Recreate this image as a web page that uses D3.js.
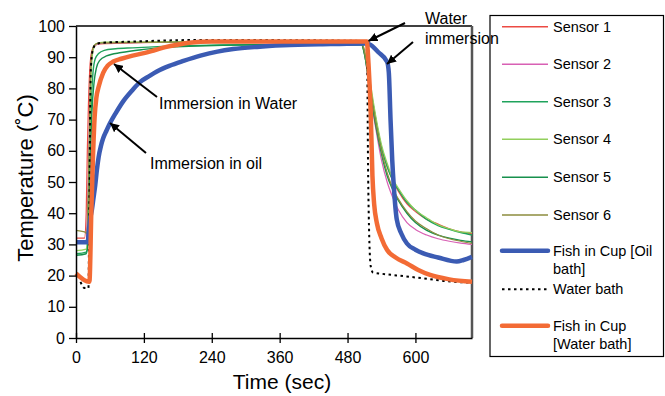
<!DOCTYPE html>
<html><head><meta charset="utf-8">
<script src="https://cdn.jsdelivr.net/npm/d3@7"></script>
<style>
body{margin:0;background:#fff;}
text{font-family:"Liberation Sans",Arial,Helvetica,sans-serif;fill:#000;}
</style></head>
<body><svg id="c" width="665" height="396"></svg>
<script>
// ---------- data (time sec, temperature °C) ----------
const xTicks = [0,120,240,360,480,600];
const yTicks = [0,10,20,30,40,50,60,70,80,90,100];

const sensor1 = [[0,32],[15,32],[18,40],[20,60],[22,75],[25,88],[28,92],[32,93.5],[40,94.3],[80,94.5],[200,94.8],[350,94.8],[505,94.6],[510,92],[520,81],[530,70],[540,61],[550,55],[560,50.5],[570,47],[585,43],[600,40.5],[620,38],[640,36.5],[660,35],[680,34],[700,33.5]];
const sensor2 = [[0,31],[18,31],[21,45],[24,70],[27,88],[30,92.5],[35,94],[50,94.5],[200,94.8],[505,94.5],[510,91],[520,78],[530,67],[540,57],[550,50],[560,45],[570,41],[585,37],[600,34.8],[620,33],[640,31.8],[660,31],[680,30.4],[700,30]];
const sensor3 = [[0,27],[18,27.5],[21,32],[24,55],[27,75],[30,85],[34,89.5],[40,91.2],[50,92.2],[70,92.7],[100,93],[200,93.7],[350,94],[505,94],[510,91],[520,80],[530,70],[540,61],[550,55],[560,50.5],[570,47.5],[585,43.5],[600,41],[620,38],[640,36],[660,34.8],[680,33.8],[700,33]];
const sensor4 = [[0,28],[18,28.5],[21,35],[24,60],[27,85],[30,92],[35,94.2],[50,94.8],[200,95],[505,94.8],[510,92],[520,82],[530,71],[540,62],[550,56],[560,51],[570,48],[585,44],[600,41],[620,38.5],[640,36.3],[660,35],[680,34],[700,33.8]];
const sensor5 = [[0,26.5],[18,27],[22,32],[25,55],[28,72],[32,82],[36,86.5],[42,89],[54,90.4],[80,91.5],[120,92.5],[200,93.5],[350,94],[505,94],[510,91],[520,79],[530,68],[540,59],[550,52],[560,47.5],[570,44],[585,40],[600,37],[620,34.5],[640,33],[660,32],[680,31.3],[700,30.8]];
const sensor6 = [[0,34.5],[15,34],[19,33.5],[22,50],[25,80],[28,91],[32,93.8],[40,94.5],[200,94.8],[505,94.6],[510,91.5],[520,80],[530,69],[540,60],[550,53],[560,48],[570,44.5],[585,40.5],[600,37.5],[620,35],[640,33],[660,31.8],[680,31],[700,30.3]];
const fishOil = [[0,30.7],[21,30.7],[22,33],[25,38],[28,41],[31,45],[34,49],[37,54],[40,58],[44,61.5],[48,64],[54,66.5],[60,68.8],[70,72],[84,76],[100,79.5],[113,82],[130,84],[143,85.4],[165,87.2],[190,88.8],[220,90.5],[250,91.8],[278,92.6],[320,93.3],[366,93.8],[450,94.2],[510,94.4],[518,94.2],[535,91.5],[550,88.5],[553,85],[556,70],[559,57],[562,48],[567,38],[575,33.5],[585,30.3],[600,28.3],[614,27.1],[640,25.8],[673,24.5],[685,25],[700,26]];
const waterBath = [[8,18],[15,16],[22,16],[23,30],[24,50],[25,72],[26,85],[28,90.5],[31,93],[35,94],[45,94.6],[100,95],[210,95.5],[300,95.5],[508,95.2],[513,95],[515,85],[516,60],[518,35],[521,23],[525,21],[540,20.6],[580,19.8],[620,19],[650,18.3],[700,17.7]];
const fishWater = [[0,20.7],[23,18],[24,18.5],[27,40],[30,58],[33,71],[36,77],[40,80.5],[48,85],[56,87.3],[66,88.6],[80,89.5],[100,90.5],[120,91.3],[140,92.3],[160,93.3],[180,94],[200,94.6],[240,95],[400,95],[514,95],[517,88],[521,72],[524,52],[527,43],[532,36.7],[540,32],[550,28.2],[565,25.8],[585,23.9],[605,21.8],[626,20.2],[660,18.8],[700,18]];

const seriesNames = ["Sensor 1","Sensor 2","Sensor 3","Sensor 4","Sensor 5","Sensor 6","Fish in Cup [Oil bath]","Water bath","Fish in Cup [Water bath]"];
const seriesData = [sensor1,sensor2,sensor3,sensor4,sensor5,sensor6,fishOil,waterBath,fishWater];
const seriesColors = ["#ec4a43","#d860b4","#1fa35c","#92cf5c","#17904d","#8c8c3e","#3b5bb3","#000000","#f36b35"];
const seriesWidths = [1.2,1.2,1.4,1.2,1.4,1.2,4.5,2,4.5];
const seriesDash = [null,null,null,null,null,null,null,"2.5,3.5",null];
const legendLines = [["Sensor 1"],["Sensor 2"],["Sensor 3"],["Sensor 4"],["Sensor 5"],["Sensor 6"],["Fish in Cup [Oil","bath]"],["Water bath"],["Fish in Cup","[Water bath]"]];

// ---------- layout ----------
const svg = d3.select("#c");
const L = 76, R = 472, T = 26, B = 338;
const x = d3.scaleLinear().domain([0,700]).range([L,R]);
const y = d3.scaleLinear().domain([0,100]).range([B,T]);

// borders
svg.append("line").attr("x1",L).attr("x2",R).attr("y1",T).attr("y2",T).attr("stroke","#000").attr("stroke-width",1.3);
svg.append("line").attr("x1",R).attr("x2",R).attr("y1",T).attr("y2",B).attr("stroke","#555").attr("stroke-width",2.5);

// series (draw order: sensors, water bath, oil fish, water fish)
const line = d3.line().x(d=>x(d[0])).y(d=>y(d[1])).curve(d3.curveMonotoneX);
const order = [0,1,2,3,4,5,7,6,8];
order.forEach(i=>{
  svg.append("path").datum(seriesData[i]).attr("d",line)
    .attr("fill","none").attr("stroke",seriesColors[i])
    .attr("stroke-width",seriesWidths[i])
    .attr("stroke-dasharray",seriesDash[i])
    .attr("stroke-linejoin","round");
});

// axes
const ya = svg.append("g").attr("transform",`translate(${L},0)`)
  .call(d3.axisLeft(y).tickValues(yTicks).tickSize(7).tickSizeOuter(0).tickPadding(4));
ya.selectAll("text").style("font-size","16px");
const xa = svg.append("g").attr("transform",`translate(0,${B})`)
  .call(d3.axisBottom(x).tickValues(xTicks).tickSize(5).tickSizeOuter(0));
xa.selectAll(".tick line").attr("y1",-5).attr("y2",5);
xa.selectAll("text").attr("y",14).style("font-size","16px");
[ya,xa].forEach(g=>{g.select(".domain").attr("stroke","#000").attr("stroke-width",1.5);
  g.selectAll(".tick line").attr("stroke","#000").attr("stroke-width",1.3);
  g.selectAll("text").attr("fill","#000").style("font-family","'Liberation Sans',Arial,sans-serif");});

// axis titles
svg.append("text").attr("x",282).attr("y",389).attr("text-anchor","middle").style("font-size","21px").text("Time (sec)");
svg.append("text").attr("transform","translate(33,178) rotate(-90)").attr("text-anchor","middle").style("font-size","22px").text("Temperature (˚C)");

// legend
svg.append("rect").attr("x",490).attr("y",15.5).attr("width",173.5).attr("height",341).attr("fill","#fff").attr("stroke","#000").attr("stroke-width",1.2);
const rowY = [26.7,64.3,101.7,139.3,177.3,215,250.7,289.3,325.7];
seriesNames.forEach((n,i)=>{
  const ly = rowY[i];
  svg.append("line").attr("x1",502).attr("x2",548).attr("y1",ly).attr("y2",ly)
    .attr("stroke",seriesColors[i]).attr("stroke-width",seriesWidths[i]===4.5?4.5:(i===7?2:1.6))
    .attr("stroke-dasharray",seriesDash[i]).attr("stroke-linecap",seriesWidths[i]===4.5?"round":"butt");
  legendLines[i].forEach((t,k)=>{
    svg.append("text").attr("x",553).attr("y",ly+5+k*18.6).style("font-size","14.5px").text(t);
  });
});

// annotations
const defs = svg.append("defs");
defs.append("marker").attr("id","ah").attr("viewBox","0 0 10 10").attr("refX",10).attr("refY",5)
  .attr("markerWidth",9).attr("markerHeight",9).attr("markerUnits","userSpaceOnUse").attr("orient","auto")
  .append("path").attr("d","M0,0 L10,5 L0,10 Z").attr("fill","#000");
const arrows = [[157,97,114,64],[146,153,110,123],[405,23,368.5,41],[413,42,387,64]];
arrows.forEach(a=>{
  svg.append("line").attr("x1",a[0]).attr("y1",a[1]).attr("x2",a[2]).attr("y2",a[3])
    .attr("stroke","#000").attr("stroke-width",2).attr("marker-end","url(#ah)");
});
svg.append("text").attr("x",159).attr("y",109).style("font-size","16px").text("Immersion in Water");
svg.append("text").attr("x",150).attr("y",169).style("font-size","16px").text("Immersion in oil");
svg.append("text").attr("x",425).attr("y",24).style("font-size","16px").text("Water");
svg.append("text").attr("x",425).attr("y",44).style("font-size","16px").text("immersion");
</script></body></html>
